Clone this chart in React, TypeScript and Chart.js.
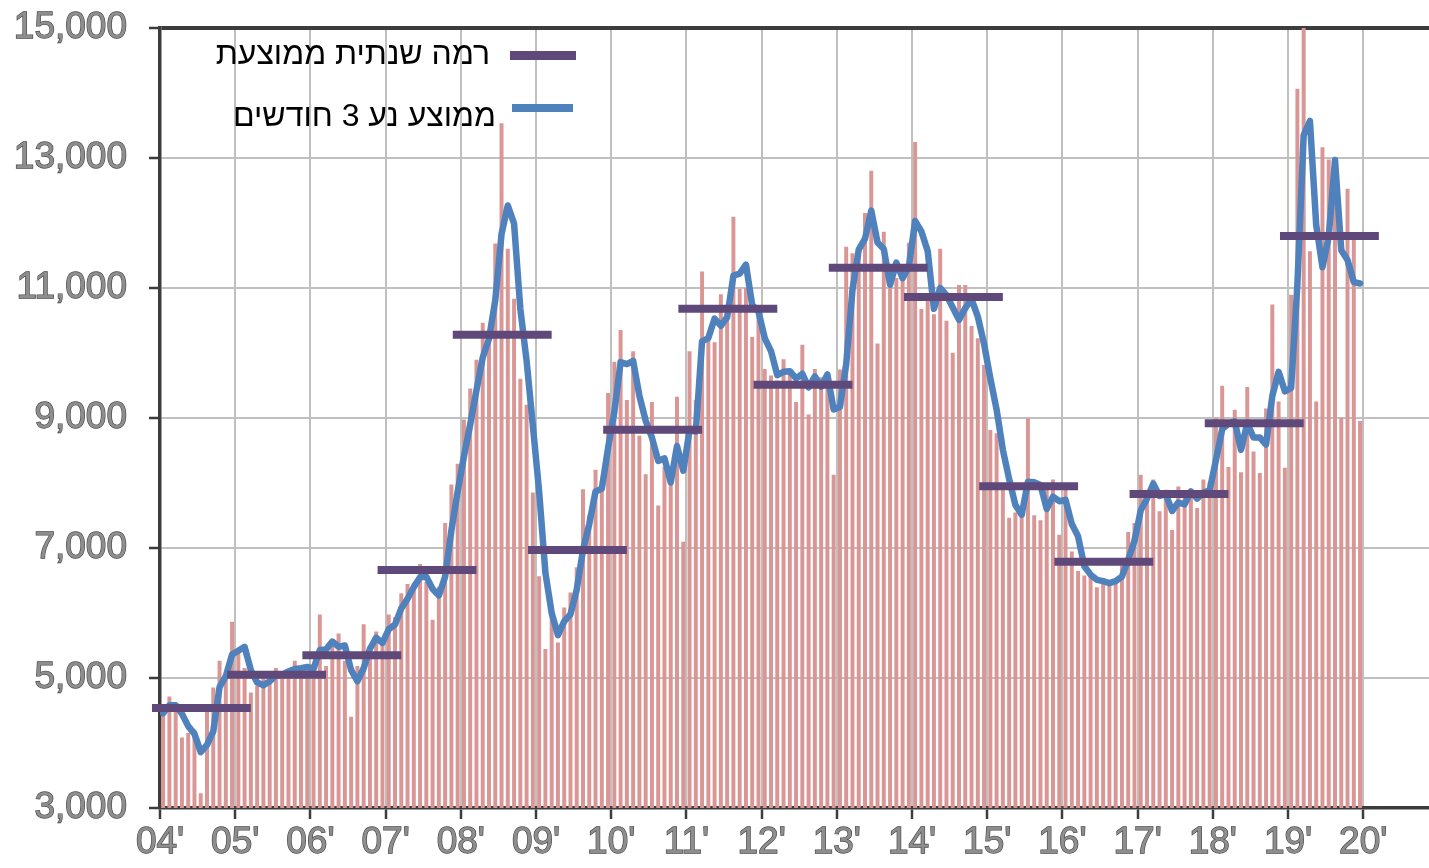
import React, { useEffect, useRef } from "react";
import { Chart, registerables } from "chart.js";

Chart.register(...registerables);

// Year tick labels (one per January, 2004 … 2020)
const yearTickLabels = ["04'", "05'", "06'", "07'", "08'", "09'", "10'", "11'", "12'", "13'", "14'", "15'", "16'", "17'", "18'", "19'", "20'"];

// Monthly values, Jan 2004 – Dec 2019
const monthly2004 = [4480, 4710, 4550, 4080, 4150, 4200, 3220, 4480, 4850, 5260, 4970, 5860];
const monthly2005 = [5430, 5150, 4770, 4870, 5030, 4950, 5150, 5050, 5100, 5260, 5100, 5150];
const monthly2006 = [5170, 5970, 5180, 5530, 5680, 5260, 4400, 5180, 5820, 5350, 5710, 5560];
const monthly2007 = [5970, 5930, 6300, 6440, 6460, 6750, 6470, 5890, 6400, 7380, 7970, 8290];
const monthly2008 = [8970, 9450, 9890, 10460, 10300, 11680, 13530, 11600, 10830, 9600, 9200, 7850];
const monthly2009 = [6560, 5440, 6000, 5540, 6080, 6310, 6700, 7900, 7500, 8200, 8030, 9380];
const monthly2010 = [9860, 10350, 9270, 10020, 8720, 8130, 9240, 7650, 8240, 8150, 9320, 7090];
const monthly2011 = [10020, 9270, 11250, 10190, 10160, 10900, 10590, 12090, 10980, 11000, 10240, 10690];
const monthly2012 = [9750, 9650, 9570, 9900, 9680, 9240, 10120, 9050, 9750, 9620, 9650, 8120];
const monthly2013 = [9740, 11630, 11530, 11610, 12150, 12800, 10140, 11860, 11150, 11150, 11160, 11690];
const monthly2014 = [13240, 10670, 10800, 10590, 11600, 10490, 10000, 11040, 11040, 10410, 10220, 9810];
const monthly2015 = [8810, 8760, 7970, 7460, 7540, 7540, 8990, 7500, 7420, 7890, 8050, 7200];
const monthly2016 = [7960, 6940, 6640, 6570, 6570, 6390, 6520, 6470, 6490, 6720, 7240, 7380];
const monthly2017 = [8120, 7790, 8050, 7560, 7890, 7270, 7940, 7790, 7890, 7610, 8050, 8010];
const monthly2018 = [9000, 9490, 8240, 9120, 8160, 9470, 8480, 8150, 9140, 10740, 9250, 8230];
const monthly2019 = [10890, 14060, 15100, 11560, 9250, 13160, 12970, 12770, 9000, 12520, 11740, 8950];

// 3-month moving average
const ma2004 = [4460, 4580, 4580, 4450, 4260, 4140, 3860, 3970, 4180, 4860, 5030, 5360];
const ma2005 = [5420, 5480, 5120, 4930, 4890, 4950, 5040, 5050, 5100, 5140, 5150, 5170];
const ma2006 = [5140, 5430, 5440, 5560, 5480, 5500, 5120, 4950, 5150, 5450, 5620, 5540];
const ma2007 = [5750, 5820, 6070, 6220, 6400, 6550, 6560, 6370, 6270, 6560, 7270, 7870];
const ma2008 = [8410, 8900, 9430, 9930, 10220, 10810, 11830, 12270, 11990, 10680, 9880, 8880];
const ma2009 = [7870, 6620, 6000, 5660, 5870, 5980, 6360, 6970, 7370, 7870, 7910, 8540];
const ma2010 = [9090, 9860, 9830, 9880, 9340, 8960, 8700, 8340, 8380, 8010, 8570, 8190];
const ma2011 = [8810, 8790, 10180, 10230, 10530, 10420, 10550, 11190, 11220, 11360, 10740, 10640];
const ma2012 = [10230, 10030, 9660, 9710, 9720, 9610, 9680, 9470, 9640, 9480, 9670, 9130];
const ma2013 = [9170, 9830, 10970, 11590, 11760, 12190, 11700, 11600, 11050, 11390, 11150, 11330];
const ma2014 = [12030, 11870, 11570, 10680, 11000, 10890, 10700, 10510, 10690, 10830, 10560, 10140];
const ma2015 = [9610, 9130, 8510, 8060, 7660, 7510, 8020, 8010, 7970, 7600, 7790, 7720];
const ma2016 = [7740, 7370, 7180, 6720, 6590, 6510, 6490, 6460, 6490, 6560, 6820, 7110];
const ma2017 = [7580, 7760, 7990, 7800, 7830, 7570, 7700, 7670, 7870, 7760, 7850, 7890];
const ma2018 = [8350, 8830, 8910, 8950, 8510, 8920, 8700, 8700, 8590, 9340, 9710, 9410];
const ma2019 = [9460, 11060, 13350, 13570, 11970, 11320, 11790, 12970, 11580, 11430, 11090, 11070];

// Annual average level, 2004 – 2019
const annualAverage = [4540, 5050, 5350, 6660, 10280, 6970, 8820, 10680, 9510, 11310, 10860, 7950, 6790, 7830, 8920, 11800];

const legendAnnual = "רמה שנתית ממוצעת";
const legendMA = "ממוצע נע 3 חודשים";

const monthlyValues = [
  ...monthly2004, ...monthly2005, ...monthly2006, ...monthly2007,
  ...monthly2008, ...monthly2009, ...monthly2010, ...monthly2011,
  ...monthly2012, ...monthly2013, ...monthly2014, ...monthly2015,
  ...monthly2016, ...monthly2017, ...monthly2018, ...monthly2019,
];
const movingAverage = [
  ...ma2004, ...ma2005, ...ma2006, ...ma2007,
  ...ma2008, ...ma2009, ...ma2010, ...ma2011,
  ...ma2012, ...ma2013, ...ma2014, ...ma2015,
  ...ma2016, ...ma2017, ...ma2018, ...ma2019,
];

const PURPLE = "#5F497A";
const BLUE = "#4F81BD";
const BAR = "#D99694";
const DARK = "#3C3C3C";
const GRID = "#C0C0C0";
const FONT = '"Liberation Sans", Arial, sans-serif';

export default function App() {
  const ref = useRef<HTMLCanvasElement | null>(null);

  useEffect(() => {
    if (!ref.current) return;
    const barData = monthlyValues.map((v, i) => ({ x: i + 0.5, y: v }));
    const maData = movingAverage.map((v, i) => ({ x: i + 0.5, y: v }));
    const annualSets = annualAverage.map((v, k) => ({
      type: "line" as const,
      label: "annual" + k,
      data: [
        { x: 12 * k - 1.28, y: v },
        { x: 12 * k + 14.5, y: v },
      ],
      borderColor: PURPLE,
      backgroundColor: PURPLE,
      borderWidth: 8,
      borderCapStyle: "butt" as const,
      pointRadius: 0,
      clip: false as any,
      order: 1,
    }));

    const chart = new Chart(ref.current, {
      type: "bar",
      data: {
        datasets: [
          {
            type: "bar",
            label: "monthly",
            data: barData as any,
            backgroundColor: BAR,
            borderWidth: 0,
            barThickness: 3.3,
            order: 3,
          },
          {
            type: "line",
            label: "ma",
            data: maData as any,
            borderColor: BLUE,
            backgroundColor: BLUE,
            borderWidth: 6.5,
            borderJoinStyle: "round",
            borderCapStyle: "round",
            pointRadius: 0,
            tension: 0,
            order: 2,
          },
          ...(annualSets as any),
        ],
      },
      options: {
        responsive: false,
        animation: false,
        devicePixelRatio: 1,
        layout: { padding: { left: 0, top: 28, right: 0, bottom: 0 } },
        plugins: {
          legend: { display: false },
          tooltip: { enabled: false },
        },
        scales: {
          x: {
            type: "linear",
            min: 0,
            max: 202.5,
            offset: false,
            ticks: {
              stepSize: 12,
              includeBounds: false,
              autoSkip: false,
              maxRotation: 0,
              padding: 2,
              color: "#8E8E8E",
              textStrokeColor: "#484848",
              textStrokeWidth: 1.3,
              font: { family: FONT, size: 37 },
              callback: (v: any) => yearTickLabels[Math.round(Number(v) / 12)] ?? "",
            },
            grid: {
              offset: false,
              color: (c: any) => (c.tick && c.tick.value === 0 ? DARK : GRID),
              lineWidth: 2,
              tickColor: DARK,
              tickLength: 11,
              tickWidth: 2.5,
            },
            border: { display: true, color: DARK, width: 3.5 },
            afterFit: (s: any) => {
              s.height = 60;
              s.paddingLeft = 0;
              s.paddingRight = 0;
            },
          } as any,
          y: {
            min: 3000,
            max: 15000,
            ticks: {
              stepSize: 2000,
              padding: 22,
              color: "#8E8E8E",
              textStrokeColor: "#484848",
              textStrokeWidth: 1.3,
              font: { family: FONT, size: 37 },
              callback: (v: any) => Number(v).toLocaleString("en-US"),
            },
            grid: {
              color: (c: any) =>
                c.tick && (c.tick.value === 15000 || c.tick.value === 3000) ? DARK : GRID,
              lineWidth: (c: any) => (c.tick && c.tick.value === 15000 ? 4 : 2),
              tickColor: DARK,
              tickLength: 11,
              tickWidth: 2.5,
            },
            border: { display: true, color: DARK, width: 3.5 },
            afterFit: (s: any) => {
              s.width = 160;
              s.paddingTop = 0;
              s.paddingBottom = 0;
            },
          } as any,
        },
      },
    });
    return () => chart.destroy();
  }, []);

  const textStyle: React.CSSProperties = {
    position: "absolute",
    fontFamily: FONT,
    fontSize: 32,
    lineHeight: "36px",
    color: "#000",
    whiteSpace: "nowrap",
  };

  return (
    <div style={{ position: "absolute", left: 0, top: 0, width: 1429, height: 868, background: "#fff" }}>
      <canvas ref={ref} width={1429} height={868} style={{ display: "block" }} />
      <div style={{ position: "absolute", left: 510, top: 51, width: 66, height: 9, background: PURPLE }} />
      <div dir="rtl" style={{ ...textStyle, right: 1429 - 490, top: 35 }}>{legendAnnual}</div>
      <div style={{ position: "absolute", left: 512, top: 104, width: 61, height: 8, background: BLUE }} />
      <div dir="rtl" style={{ ...textStyle, right: 1429 - 496, top: 97 }}>{legendMA}</div>
    </div>
  );
}
